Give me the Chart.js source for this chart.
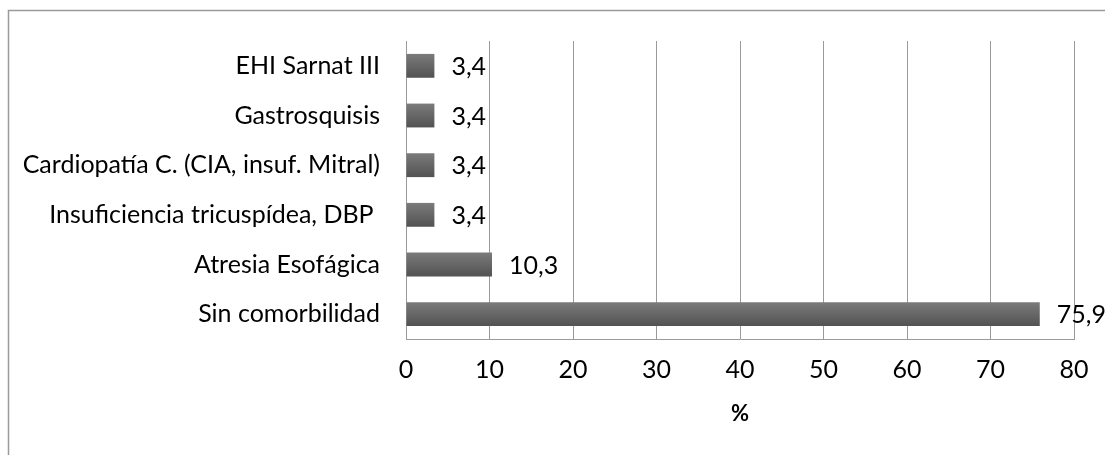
<!DOCTYPE html>
<html>
<head>
<meta charset="utf-8">
<script src="https://cdn.jsdelivr.net/npm/chart.js@4.4.1/dist/chart.umd.min.js"></script>
<style>
  html, body { margin: 0; padding: 0; background: #fff; }
  #wrap { width: 1105px; height: 455px; position: relative; }
</style>
</head>
<body>
<div id="wrap"><canvas id="c" width="1105" height="455"></canvas></div>
<script>
const categories = [
  'EHI Sarnat III',
  'Gastrosquisis',
  'Cardiopatía C. (CIA, insuf. Mitral)',
  'Insuficiencia tricuspídea, DBP ',
  'Atresia Esofágica',
  'Sin comorbilidad'
];
const values = [3.4, 3.4, 3.4, 3.4, 10.3, 75.9];
const xTickValues = [0, 10, 20, 30, 40, 50, 60, 70, 80];
const axisTitle = '%';

const FONT = 'Lato, "Open Sans", sans-serif';
const fmt = v => String(v).replace('.', ',');

const borderPlugin = {
  id: 'outerBorder',
  beforeDraw(chart) {
    const ctx = chart.ctx;
    ctx.save();
    ctx.strokeStyle = '#9a9a9a';
    ctx.lineWidth = 1.5;
    ctx.beginPath();
    ctx.moveTo(8.5, 455);
    ctx.lineTo(8.5, 10.5);
    ctx.lineTo(1105, 10.5);
    ctx.stroke();
    ctx.restore();
  }
};

const labelPlugin = {
  id: 'valueLabels',
  afterDatasetsDraw(chart) {
    const ctx = chart.ctx;
    const meta = chart.getDatasetMeta(0);
    ctx.save();
    ctx.font = '25px ' + FONT;
    ctx.fillStyle = '#000';
    ctx.textAlign = 'left';
    ctx.textBaseline = 'middle';
    meta.data.forEach((bar, i) => {
      ctx.fillText(fmt(values[i]), bar.x + 17, bar.y + 1);
    });
    ctx.restore();
  }
};

new Chart(document.getElementById('c'), {
  type: 'bar',
  data: {
    labels: categories,
    datasets: [{
      data: values,
      backgroundColor(context) {
        const chart = context.chart;
        const y = chart.scales && chart.scales.y;
        if (!y || context.dataIndex === undefined) return '#666';
        const cy = y.getPixelForValue(context.dataIndex);
        if (!isFinite(cy)) return '#666';
        const g = chart.ctx.createLinearGradient(0, cy - 12, 0, cy + 12);
        g.addColorStop(0, '#7b7b7b');
        g.addColorStop(1, '#525252');
        return g;
      },
      borderWidth: 0,
      barPercentage: 0.48,
      categoryPercentage: 1
    }]
  },
  options: {
    indexAxis: 'y',
    responsive: false,
    animation: false,
    devicePixelRatio: 1,
    layout: { padding: { left: 0, top: 40, right: 31, bottom: 0 } },
    plugins: {
      legend: { display: false },
      tooltip: { enabled: false }
    },
    scales: {
      x: {
        min: 0, max: 80,
        afterBuildTicks(scale) { scale.ticks = xTickValues.map(v => ({ value: v })); },
        afterFit(scale) { scale.height = 455 - 339; },
        grid: { color: '#9a9a9a', lineWidth: 1, drawTicks: false },
        border: { color: '#9a9a9a' },
        ticks: {
          color: '#000',
          font: { family: FONT, size: 25 },
          padding: 16,
          maxRotation: 0
        },
        title: {
          display: true,
          text: axisTitle,
          color: '#000',
          font: { family: FONT, size: 22, weight: 'bold' },
          padding: { top: 0, bottom: 28 }
        }
      },
      y: {
        afterFit(scale) { scale.width = 406; },
        grid: { display: false, drawTicks: false },
        border: { color: '#9a9a9a', display: true },
        ticks: {
          color: '#000',
          font: { family: FONT, size: 25 },
          padding: 26
        }
      }
    }
  },
  plugins: [borderPlugin, labelPlugin]
});
</script>
</body>
</html>
